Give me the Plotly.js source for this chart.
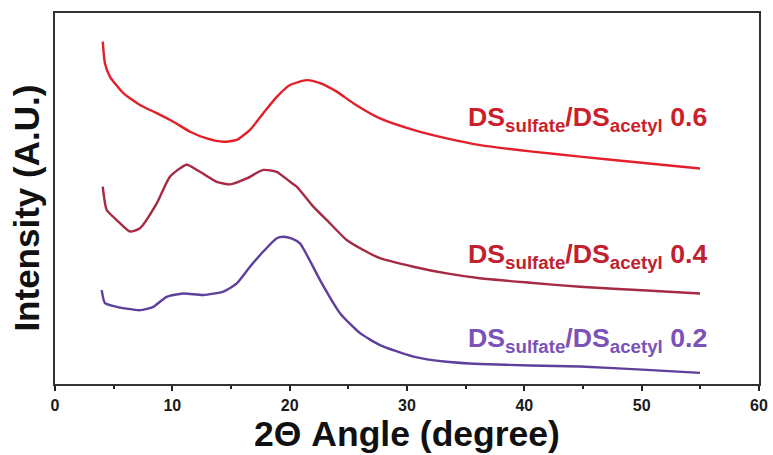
<!DOCTYPE html>
<html>
<head>
<meta charset="utf-8">
<script src="https://cdn.plot.ly/plotly-3.0.1.min.js"></script>
<style>html,body{margin:0;padding:0;background:#fff;}#chart{width:773px;height:455px;}</style>
</head>
<body>
<div id="chart"></div>
<script>
// DS sulfate / DS acetyl 0.6
const x06 = [4.07, 4.26, 4.69, 5.82, 7.24, 8.67, 10.08, 11.51, 12.93, 14.34, 15.49, 16.62, 17.75, 18.90, 20.03, 21.45, 22.59, 24.01, 25.42, 27.70, 30.54, 33.38, 36.22, 40.5, 44.75, 50.43, 54.97];
const y06 = [92.3, 86.4, 82.8, 78.4, 75.2, 73.0, 70.7, 68.0, 66.2, 65.3, 65.8, 68.5, 73.0, 77.4, 80.6, 81.9, 81.1, 78.8, 75.7, 71.6, 68.5, 66.2, 64.4, 62.7, 61.3, 59.5, 58.1];
// DS sulfate / DS acetyl 0.4
const x04 = [4.07, 4.41, 5.26, 6.39, 7.24, 8.67, 9.80, 11.22, 12.36, 13.78, 14.92, 16.34, 17.75, 18.90, 20.03, 20.60, 22.02, 23.44, 24.86, 26.28, 27.70, 30.54, 33.38, 36.22, 40.5, 44.75, 50.43, 54.97];
const y04 = [53.2, 46.9, 44.2, 41.1, 42.0, 48.7, 55.9, 59.1, 57.2, 54.5, 53.8, 55.4, 57.7, 57.2, 54.5, 53.2, 47.8, 43.3, 38.8, 36.1, 33.9, 31.6, 29.8, 28.5, 27.3, 26.2, 25.2, 24.4];
// DS sulfate / DS acetyl 0.2
const x02 = [3.98, 4.26, 5.26, 7.24, 8.38, 9.52, 10.93, 12.64, 14.34, 15.49, 16.62, 17.75, 18.90, 19.46, 20.20, 20.88, 21.60, 22.59, 24.29, 26.00, 27.70, 30.54, 33.38, 36.22, 40.5, 44.75, 50.43, 54.97];
const y02 = [25.3, 21.8, 20.8, 19.9, 20.8, 23.5, 24.4, 24.0, 24.9, 27.1, 31.6, 35.7, 39.3, 39.7, 39.2, 37.9, 34.0, 28.0, 19.1, 13.7, 10.5, 7.4, 6.0, 5.4, 5.0, 4.7, 3.8, 3.0];

const seriesNames = ["0.6", "0.4", "0.2"];
const labelY = [71.4, 34.5, 11.9];
const labelX = 55.7;

const colors = ["#e3202a", "#a62a44", "#5e3f9c"];
const labelColors = ["#cc1f2b", "#c0212e", "#7a52b8"];

const xs = [x06, x04, x02];
const ys = [y06, y04, y02];

const traces = xs.map((x, i) => ({
  x: x, y: ys[i], type: "scatter", mode: "lines",
  line: {color: colors[i], width: 2.4, shape: "spline", smoothing: 0.55},
  showlegend: false, hoverinfo: "skip"
}));

const annotations = seriesNames.map((n, i) => ({
  x: labelX, y: labelY[i], xref: "x", yref: "y",
  xanchor: "right", yanchor: "middle", showarrow: false,
  text: "<b>DS<sub>sulfate</sub>/DS<sub>acetyl</sub> " + n + "</b>",
  font: {family: "Liberation Sans, Arial, sans-serif", size: 26.7, color: labelColors[i]}
}));

annotations.push({
  x: -0.04, y: 0.475, xref: "paper", yref: "paper",
  xanchor: "center", yanchor: "middle", showarrow: false, textangle: -90,
  text: "<b>Intensity (A.U.)</b>",
  font: {family: "Liberation Sans, Arial, sans-serif", size: 35, color: "#111"}
});

const layout = {
  width: 773, height: 455,
  margin: {l: 55, r: 14, t: 13, b: 71},
  paper_bgcolor: "#fff", plot_bgcolor: "#fff",
  font: {family: "Liberation Sans, Arial, sans-serif", color: "#111"},
  xaxis: {
    range: [0, 60], tickvals: [0, 10, 20, 30, 40, 50, 60],
    ticktext: ["0", "10", "20", "30", "40", "50", "60"],
    ticks: "outside", ticklen: 5, tickwidth: 2, tickcolor: "#222",
    ticklabelstandoff: 1,
    minor: {dtick: 5, tick0: 0, ticks: "outside", ticklen: 3, tickwidth: 2, tickcolor: "#222"},
    showline: true, linewidth: 2, linecolor: "#333", mirror: true,
    showgrid: false, zeroline: false,
    tickfont: {size: 16, family: "Liberation Sans, Arial, sans-serif", color: "#1a1a1a", weight: "bold"},
    title: {text: "<b>2Θ Angle (degree)</b>", font: {size: 35.5, color: "#111"}, standoff: 5}
  },
  yaxis: {
    range: [0, 100], showticklabels: false, ticks: "",
    showline: true, linewidth: 2, linecolor: "#333", mirror: true,
    showgrid: false, zeroline: false
  },
  annotations: annotations
};

Plotly.newPlot("chart", traces, layout, {staticPlot: true, displayModeBar: false});
</script>
</body>
</html>
